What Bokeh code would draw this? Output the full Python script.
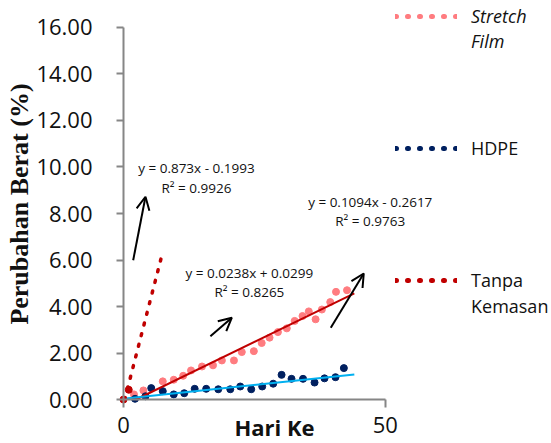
import math
from bokeh.plotting import figure
from bokeh.models import (Range1d, FixedTicker, NumeralTickFormatter, Legend, LegendItem,
                          Label, Arrow, OpenHead)
from bokeh.embed import file_html
from bokeh.resources import INLINE

# ---------------- data ----------------
stretch_days = [2.0, 3.8, 7.5, 9.6, 11.4, 12.9, 15.0, 17.1, 18.8, 21.1, 22.6, 24.9,
                26.4, 27.9, 29.5, 31.2, 32.7, 34.2, 35.4, 36.7, 37.9, 39.5, 40.6, 42.7]
stretch_vals = [0.22, 0.39, 0.78, 0.85, 1.02, 1.25, 1.42, 1.47, 1.68, 1.68, 2.04, 2.08,
                2.43, 2.66, 2.90, 3.06, 3.38, 3.59, 3.79, 3.45, 3.87, 4.19, 4.63, 4.70]
hdpe_days = [2.2, 4.2, 5.3, 7.5, 9.6, 11.6, 13.6, 15.8, 18.1, 20.4, 22.3, 24.4,
             26.5, 28.6, 30.2, 32.1, 34.3, 36.5, 38.4, 40.5, 42.1]
hdpe_vals = [0.03, 0.14, 0.49, 0.36, 0.22, 0.27, 0.46, 0.46, 0.44, 0.44, 0.56, 0.44,
             0.56, 0.68, 1.06, 0.89, 0.89, 0.73, 0.91, 0.96, 1.35]
tanpa_days = [0, 1]
tanpa_vals = [0.0, 0.42]

# trendline coefficients (slope, intercept) as printed on the chart, and x extent
stretch_fit = (0.1094, -0.2617)
hdpe_fit = (0.0238, 0.0299)
tanpa_fit = (0.873, -0.1993)
stretch_fit_end = 44.1
hdpe_fit_end = 44.1
tanpa_fit_end = 7.4

eq_texts = [("y = 0.873x - 0.1993", "R² = 0.9926"),
            ("y = 0.1094x - 0.2617", "R² = 0.9763"),
            ("y = 0.0238x + 0.0299", "R² = 0.8265")]

y_ticks = [0, 2, 4, 6, 8, 10, 12, 14, 16]
x_ticks = [0, 50]

C_PINK = "#FF7C80"
C_NAVY = "#002060"
C_RED = "#C00000"
C_BLUE = "#00B0F0"
AXIS = "#868686"
FONT = "Open Sans"
TXT = "#111111"


def fit_line(fit, x_end):
    m, b = fit
    x0 = -b / m if b < 0 else 0.0
    return [x0, x_end], [m * x0 + b, m * x_end + b]


p = figure(width=551, height=443, output_backend="svg", toolbar_location=None,
           x_range=Range1d(-23.50, 81.77), y_range=Range1d(-1.892, 17.161),
           min_border_left=0, min_border_right=0, min_border_top=0, min_border_bottom=0)
p.outline_line_color = None
p.grid.visible = False
p.background_fill_color = "white"
p.border_fill_color = "white"

# y axis (drawn at x = 0)
ya = p.yaxis[0]
ya.fixed_location = 0
ya.ticker = FixedTicker(ticks=y_ticks)
ya.formatter = NumeralTickFormatter(format="0.00")
ya.bounds = (0, 16)
ya.minor_tick_line_color = None
ya.major_tick_out = 7
ya.major_tick_in = 0
ya.major_label_standoff = 24
ya.axis_line_color = AXIS
ya.axis_line_width = 2
ya.major_tick_line_color = AXIS
ya.major_tick_line_width = 2
ya.major_label_text_font = FONT
ya.major_label_text_font_size = "22px"
ya.major_label_text_color = TXT

# x axis (drawn at y = 0)
xa = p.xaxis[0]
xa.fixed_location = 0
xa.ticker = FixedTicker(ticks=x_ticks)
xa.bounds = (0, 50)
xa.minor_tick_line_color = None
xa.major_tick_out = 8
xa.major_tick_in = 0
xa.major_label_standoff = 9
xa.axis_line_color = AXIS
xa.axis_line_width = 2
xa.major_tick_line_color = AXIS
xa.major_tick_line_width = 2
xa.major_label_text_font = FONT
xa.major_label_text_font_size = "22px"
xa.major_label_text_color = TXT

# data points
p.scatter(stretch_days, stretch_vals, size=7, color=C_PINK)
p.scatter(hdpe_days, hdpe_vals, size=7, color=C_NAVY)
p.scatter(tanpa_days, tanpa_vals, size=7, color=C_RED)

# trendlines
sx, sy = fit_line(stretch_fit, stretch_fit_end)
p.line(sx, sy, line_color=C_RED, line_width=2)
hx, hy = fit_line(hdpe_fit, hdpe_fit_end)
p.line(hx, hy, line_color=C_BLUE, line_width=2)
tx, ty = fit_line(tanpa_fit, tanpa_fit_end)
p.line(tx, ty, line_color=C_RED, line_width=3.5, line_dash="2 9", line_cap="round")

# equation labels
eq_pos = [(13.93, 9.94, 9.08), (47.14, 8.49, 7.66), (24.05, 5.45, 4.62)]
for (l1, l2), (ex, ey1, ey2) in zip(eq_texts, eq_pos):
    for t, ey in ((l1, ey1), (l2, ey2)):
        p.add_layout(Label(x=ex, y=ey, text=t, text_align="center", text_baseline="middle",
                           text_font=FONT, text_font_size="13.5px", text_color=TXT))

# arrows
arrows = [((1.85, 5.99), (4.2, 8.72)), ((16.6, 2.72), (20.7, 3.52)), ((39.6, 3.09), (45.9, 5.42))]
for (x0, y0), (x1, y1) in arrows:
    p.add_layout(Arrow(end=OpenHead(size=13, line_width=2, line_color="black"),
                       x_start=x0, y_start=y0, x_end=x1, y_end=y1,
                       line_width=2, line_color="black"))

# axis titles
p.add_layout(Label(x=18.6, y=239.5, x_units="screen", y_units="screen",
                   text="Perubahan Berat (%)", angle=math.pi / 2,
                   text_align="center", text_baseline="middle",
                   text_font="Liberation Serif", text_font_style="bold",
                   text_font_size="26px", text_color=TXT))
p.add_layout(Label(x=274, y=16.5, x_units="screen", y_units="screen", text="Hari Ke",
                   text_align="center", text_baseline="middle",
                   text_font=FONT, text_font_style="bold", text_font_size="22px",
                   text_color=TXT))

# legend (one Legend per text line); proxy renderers hold no drawable points
NAN = float("nan")


def proxy(color, visible=True):
    return p.line(x=[NAN], y=[NAN], line_color=color, line_width=5, line_dash="1 11",
                  line_cap="round", line_alpha=1.0 if visible else 0.0)


legend_rows = [("Stretch", C_PINK, True, "italic", 414.7),
               ("Film", C_PINK, False, "italic", 390.0),
               ("HDPE", C_NAVY, True, "normal", 283.0),
               ("Tanpa", C_RED, True, "normal", 151.0),
               ("Kemasan", C_RED, False, "normal", 125.0)]
for text, color, vis, style, vy in legend_rows:
    r = proxy(color, vis)
    lg = Legend(items=[LegendItem(label=text, renderers=[r])], location=(395, vy),
                glyph_width=62, glyph_height=20, label_standoff=14, padding=0, margin=0,
                border_line_alpha=0, background_fill_alpha=0, spacing=0,
                label_text_font=FONT, label_text_font_size="18px",
                label_text_font_style=style, label_text_color=TXT)
    p.add_layout(lg, "center")

open("out.html", "w").write(file_html(p, INLINE))
